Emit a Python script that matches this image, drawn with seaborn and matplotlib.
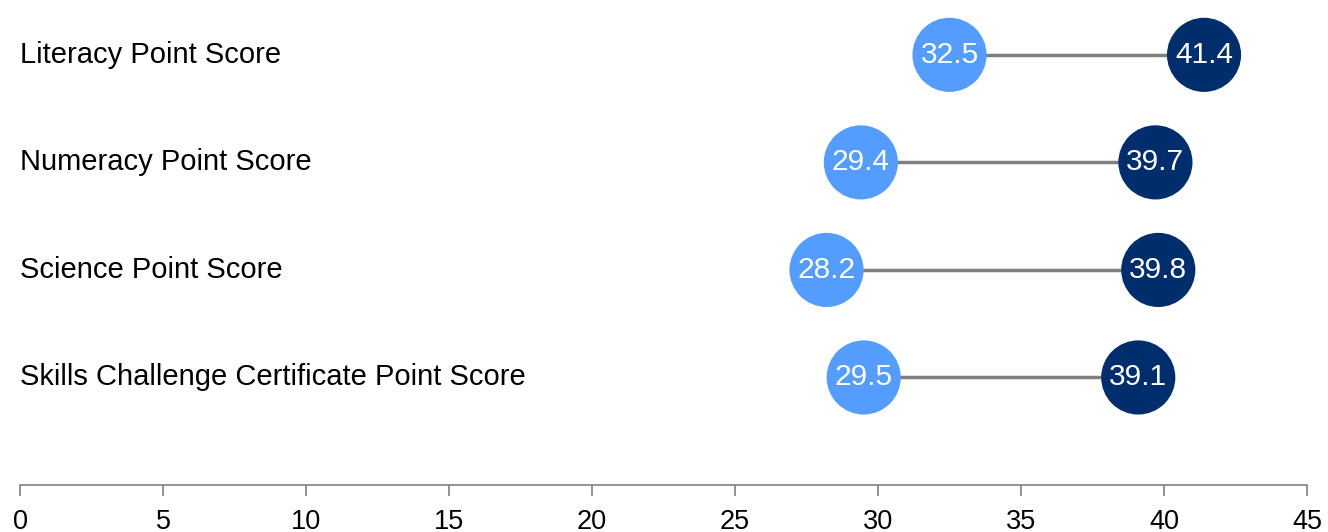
import matplotlib
matplotlib.use("Agg")
import matplotlib.pyplot as plt
import seaborn as sb
import pandas as pd

# Data
categories = ["Literacy Point Score", "Numeracy Point Score",
              "Science Point Score", "Skills Challenge Certificate Point Score"]
low_scores = [32.5, 29.4, 28.2, 29.5]
high_scores = [41.4, 39.7, 39.8, 39.1]
x_ticks = [0, 5, 10, 15, 20, 25, 30, 35, 40, 45]

light_blue = "#559CFF"
dark_blue = "#002D6B"

sb.set_style("white")
plt.rcParams["font.family"] = ["Liberation Sans", "DejaVu Sans"]

df = pd.DataFrame({
    "Category": categories * 2,
    "Score": low_scores + high_scores,
    "Group": ["low"] * len(categories) + ["high"] * len(categories),
})
df["row"] = df["Category"].map({c: i for i, c in enumerate(categories)})

fig = plt.figure(figsize=(13.28, 5.32), dpi=100)
ax = fig.add_axes([20 / 1328, 47 / 532, 1287 / 1328, 485 / 532])

# connecting lines
ax.hlines(range(len(categories)), low_scores, high_scores, color="#7F7F7F", lw=2.5, zorder=1)

sb.scatterplot(data=df, x="Score", y="row", hue="Group",
               palette={"low": light_blue, "high": dark_blue},
               s=2850, linewidth=0, legend=False, ax=ax, zorder=2)

for _, r in df.iterrows():
    ax.text(r["Score"], r["row"], f"{r['Score']:.1f}", color="white",
            ha="center", va="center", fontsize=21.5, zorder=3)

for i, c in enumerate(categories):
    ax.text(0, i, c, ha="left", va="center", fontsize=21, color="black")

ax.set_xlim(0, 45)
ax.set_ylim(4.0, -0.51)
ax.set_xticks(x_ticks)
ax.set_yticks([])
ax.set_xlabel("")
ax.set_ylabel("")
sb.despine(ax=ax, left=True, right=True, top=True)
ax.spines["bottom"].set_color("#808080")
ax.spines["bottom"].set_linewidth(1.2)
ax.tick_params(axis="x", direction="out", length=8, width=1.2, color="#808080",
               labelsize=19.5, labelcolor="black", pad=9, bottom=True)

fig.savefig("out.png", dpi=100)
